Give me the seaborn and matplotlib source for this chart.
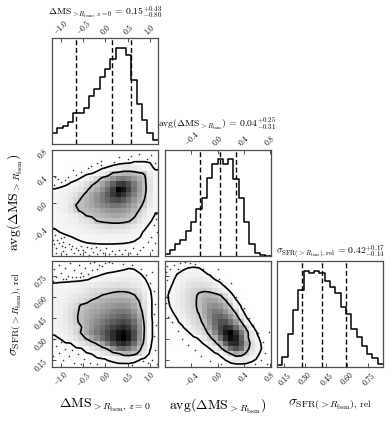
import numpy as np
import matplotlib
matplotlib.use("Agg")
import matplotlib.pyplot as plt
from matplotlib.colors import LinearSegmentedColormap
from matplotlib.ticker import FixedLocator, FuncFormatter, NullLocator
import seaborn as sns

# ---------------- data ----------------
range_ms = [-1.20, 1.18]
range_avg = [-0.81, 0.81]
range_sig = [0.10, 0.857]

labels = [r"$\Delta\mathrm{MS}_{>R_{\rm bsm},\,z=0}$",
          r"$\mathrm{avg}(\Delta\mathrm{MS}_{>R_{\rm bsm}})$",
          r"$\sigma_{\mathrm{SFR}(>R_{\rm bsm}),\,\mathrm{rel}}$"]
titles = [r"$\Delta\mathrm{MS}_{>R_{\rm bsm},\,z=0}\,=\,0.15_{-0.80}^{+0.43}$",
          r"$\mathrm{avg}(\Delta\mathrm{MS}_{>R_{\rm bsm}})\,=\,0.04_{-0.31}^{+0.25}$",
          r"$\sigma_{\mathrm{SFR}(>R_{\rm bsm}),\,\mathrm{rel}}\,=\,0.42_{-0.14}^{+0.17}$"]

hist_ms = [34, 49, 55, 67, 92, 94, 108, 143, 167, 202, 225, 255, 290, 290, 268, 192, 120, 72, 33, 12]
hist_avg = [5, 17, 33, 47, 72, 98, 138, 172, 230, 272, 286, 272, 286, 227, 172, 98, 35, 7, 2, 0]
hist_sig = [5, 30, 98, 170, 230, 288, 280, 288, 280, 258, 238, 220, 178, 158, 115, 90, 62, 40, 28, 8]

quant_ms = [-0.65, 0.15, 0.58]
quant_avg = [-0.27, 0.04, 0.29]
quant_sig = [0.28, 0.42, 0.59]

ticks_ms = [-1.0, -0.5, 0.0, 0.5, 1.0]
ticks_avg = [-0.4, 0.0, 0.4, 0.8]
ticks_sig = [0.15, 0.30, 0.45, 0.60, 0.75]

contour_levels = [3, 22]

# 2D histogram cell values, rows from top (high y) to bottom
dens_ms_avg = [
    [0, 0, 0, 0, 0, 0, 0, 0, 0, 0, 0, 0, 0, 0, 0, 0, 0, 0, 0, 0],
    [0, 0, 0, 0, 0, 0, 0, 0, 0, 0.5, 0.5, 0.5, 0.5, 1, 1, 1, 1, 1, 1, 0.5],
    [0, 0, 0, 0, 0, 0, 0, 0, 0.5, 0.5, 1, 1, 1.5, 2, 2.5, 3.5, 3.5, 3.5, 3, 1],
    [0, 0, 0, 0.5, 0.5, 0.5, 1, 1, 1.5, 2.6, 3.5, 5, 7, 9, 10, 9, 7, 5, 4, 2.5],
    [0, 0, 0.5, 0.5, 1, 1, 2, 2.8, 4, 7, 12, 24, 26, 30, 30, 28, 24, 21, 8, 4],
    [0, 0.5, 1, 1.5, 2, 3.5, 6, 10, 16, 26, 32, 42, 50, 52, 48, 40, 32, 24, 10, 4],
    [0.5, 1, 2, 3.5, 5, 8, 13, 19, 26, 36, 48, 62, 75, 78, 68, 52, 38, 25, 11, 4],
    [3.2, 4, 5, 6, 8, 11, 18, 28, 34, 44, 58, 75, 100, 92, 75, 56, 40, 26, 11, 4],
    [4, 5, 6, 8, 11, 18, 26, 34, 42, 52, 64, 78, 88, 80, 66, 50, 36, 24, 10, 4],
    [4.5, 5.5, 7, 10, 15, 24, 30, 36, 44, 52, 60, 68, 70, 64, 54, 42, 32, 21, 9, 4],
    [4.5, 5.5, 7, 12, 22, 25, 30, 34, 40, 46, 50, 54, 54, 50, 44, 36, 26, 18, 8, 4],
    [4, 5, 7, 10, 19, 25, 27, 29, 32, 36, 40, 42, 42, 40, 36, 30, 21, 13, 6, 3.5],
    [3.5, 4, 5, 7, 9, 13, 22, 24, 27, 30, 32, 34, 34, 32, 29, 24, 16, 10, 5, 2.5],
    [3.5, 4, 5, 6, 7, 9, 12, 15, 22, 24, 25, 26, 26, 25, 23, 18, 12, 7, 3.5, 1.5],
    [3.3, 3.8, 4.5, 5, 6, 7, 8, 10, 12, 14, 15, 16, 16, 15, 13, 10, 7, 4, 2, 1],
    [2.6, 3.1, 3.6, 4, 4.5, 5, 6, 7, 8, 9, 9, 9, 9, 9, 8, 6, 4, 2.5, 1.5, 1],
    [2, 2.2, 2.5, 2.9, 3.3, 3.8, 4.2, 4.6, 5, 5.2, 5.4, 5.4, 5.2, 5, 4.5, 4, 3.2, 2, 1, 0.5],
    [1.5, 1.8, 2, 2.2, 2.5, 2.8, 3.1, 3.3, 3.4, 3.5, 3.5, 3.5, 3.4, 3.3, 3.1, 2.8, 2, 1.2, 0.8, 0.3],
    [1.5, 1.5, 1.5, 1.5, 1.5, 1.5, 2, 2, 2, 2, 2, 2, 2, 2, 2, 1.5, 1, 0.5, 0.5, 0.5],
    [1, 1, 1, 1, 1, 1, 1, 1, 1, 1, 1, 1, 1, 1, 1, 1, 0.5, 0.5, 0.5, 0.5],
]

dens_ms_sig = [
    [1, 1, 1, 1, 1, 1, 1, 1, 1, 1, 1, 1, 1, 1, 1, 1, 0.5, 0.5, 0.5, 0.5],
    [1, 1, 1, 1, 1, 1, 1, 1, 1, 1, 1.5, 1.5, 2, 2.5, 3.2, 2.9, 1.5, 1, 0.5, 0.5],
    [1.5, 1.5, 1.5, 1.5, 1.5, 1.5, 1.5, 2, 2, 2.9, 3.5, 4, 4.5, 5, 5, 4.5, 3.5, 2, 1, 0.5],
    [2, 2, 2, 2, 2, 2, 2.7, 3.5, 4.5, 5.5, 6.5, 7, 7.5, 8, 8, 7, 5, 3.3, 1.5, 0.5],
    [3.5, 3.8, 4, 4.5, 5, 6, 7, 8, 9, 10, 11, 12, 13, 13, 12, 10, 8, 5, 2, 1],
    [4, 4.5, 5, 6, 7, 8, 10, 12, 14, 16, 18, 19, 20, 20, 19, 16, 12, 7, 3.2, 1],
    [4.5, 5, 6, 7, 9, 11, 13, 15, 18, 22.5, 24, 26, 27, 27, 26, 23, 17, 9, 3.5, 1.5],
    [5, 6, 7, 9, 11, 14, 18, 23, 27, 30, 32, 34, 35, 35, 34, 29, 21, 11, 3.8, 1.5],
    [5, 6, 8, 11, 15, 25, 27, 30, 33, 36, 39, 41, 43, 43, 41, 35, 24, 12, 3.8, 1.5],
    [5.5, 6.5, 9, 13, 19, 25, 30, 34, 37, 41, 45, 49, 52, 52, 50, 42, 30, 14, 3.8, 1.5],
    [5.5, 6.5, 9, 13, 20, 26, 32, 37, 41, 46, 51, 56, 60, 62, 58, 49, 34, 16, 3.8, 1.5],
    [5.5, 6.5, 9, 13, 19, 26, 33, 40, 46, 52, 58, 64, 69, 72, 68, 57, 40, 18, 3.8, 2],
    [5, 6, 8, 11, 15, 21, 32, 42, 50, 58, 66, 74, 80, 84, 78, 64, 44, 20, 3.8, 2],
    [3.5, 5, 7, 10, 16, 23, 34, 44, 53, 62, 72, 82, 92, 96, 88, 70, 46, 19, 3.8, 2],
    [2.5, 3.2, 5, 8, 12, 17, 24, 34, 46, 58, 70, 82, 94, 100, 90, 70, 44, 18, 3.8, 2],
    [1.5, 2, 2.8, 3.0, 5, 10, 14, 18, 24, 36, 52, 68, 80, 84, 76, 58, 38, 16, 3.6, 1.5],
    [1, 1.5, 2, 2.3, 2.6, 2.8, 5, 10, 14, 18, 24, 42, 56, 60, 54, 42, 26, 12, 3.3, 1],
    [0.5, 1, 1.5, 2, 2.2, 2.5, 2.5, 3.1, 6, 9, 12, 16, 20, 28, 30, 26, 18, 8, 2, 1],
    [1, 1, 1, 1.5, 1.5, 1.5, 1.5, 1.5, 2, 2.5, 3.5, 5, 7, 8, 8, 6, 3.5, 2, 1, 0.5],
    [0.5, 0.5, 0.5, 0.5, 0.5, 0.5, 1, 1, 1, 1, 1.5, 1.5, 2, 2, 2, 1.5, 1, 0.5, 0.5, 0.5],
]

dens_avg_sig = [
    [0, 0, 1, 1, 1, 1, 1, 0.5, 0, 0, 0, 0, 0, 0, 0, 0, 0, 0, 0, 0],
    [0.5, 1, 1.5, 2.5, 3.5, 4, 3.5, 2, 1, 0, 0, 0, 0, 0, 0, 0, 0, 0, 0, 0],
    [1, 2, 3.2, 4.5, 5.5, 6, 6, 4, 2.5, 1.5, 0.5, 0, 0, 0, 0, 0, 0, 0, 0, 0],
    [1.5, 2.5, 4, 6, 8, 9, 9, 8, 6, 3, 2, 0.5, 0, 0, 0, 0, 0, 0, 0, 0],
    [2, 3.1, 5, 8, 11, 13, 14, 13, 11, 8, 4, 2, 0.5, 0, 0, 0, 0, 0, 0, 0],
    [2.5, 3.5, 6, 9, 13, 17, 20, 20, 18, 14, 9, 4.5, 2, 0.5, 0, 0, 0, 0, 0, 0],
    [2.8, 4, 7, 10, 14, 19, 24, 28, 29, 27, 23, 14, 4.5, 1.5, 0.5, 0, 0, 0, 0, 0],
    [2.6, 4, 7, 10, 14, 19, 25, 32, 36, 35, 30, 23, 12, 3.4, 1.5, 0.5, 0, 0, 0, 0],
    [2.5, 3.5, 7, 10, 14, 19, 25, 34, 42, 44, 40, 31, 21, 8, 2.5, 1, 0, 0, 0, 0],
    [2, 3, 6, 9, 13, 17, 24, 35, 46, 52, 50, 42, 30, 18, 4, 1.5, 0, 0, 0, 0],
    [1.5, 2.5, 3.3, 7, 11, 15, 20, 32, 46, 58, 60, 54, 42, 28, 10, 2.5, 1, 0, 0, 0],
    [1, 2, 2.8, 4, 9, 13, 17, 27, 42, 58, 68, 68, 56, 40, 22, 6, 1.5, 0, 0, 0],
    [0.5, 1, 2, 2.8, 6, 10, 14, 21, 36, 54, 72, 82, 78, 58, 36, 17, 4, 1, 0, 0],
    [0.5, 1, 1.5, 2, 2.5, 6, 11, 16, 27, 46, 70, 90, 100, 80, 52, 27, 10, 2.5, 0.5, 0],
    [0.5, 0.5, 1, 1, 1.5, 2.2, 3.5, 10, 18, 32, 56, 82, 96, 88, 62, 28, 10, 4, 1, 0],
    [0, 0.5, 0.5, 0.5, 1, 1, 2, 3.5, 9, 17, 34, 62, 82, 84, 66, 36, 14, 5, 2, 0.5],
    [0, 0, 0, 0.5, 0.5, 0.5, 1, 1.5, 3, 8, 16, 36, 58, 68, 58, 30, 12, 5, 2.5, 0.5],
    [0, 0, 0, 0, 0, 0.5, 0.5, 1, 1.5, 2, 4, 10, 22, 34, 30, 18, 9, 4, 1.5, 0.5],
    [0, 0, 0, 0, 0, 0, 0, 0.5, 1, 1, 1.5, 3.5, 6, 9, 10, 8, 5, 2.5, 1, 0],
    [0, 0, 0, 0, 0, 0, 0, 0, 0, 0.5, 0.5, 1, 2, 2.5, 2.5, 2, 1, 0.5, 0, 0],
]

# individual samples outside the outer contour
dots_ms_avg_x = [-0.10, 0.50, 0.94, -0.73, -0.55, -0.40, -0.84, -1.07, -1.14, 1.12, 1.02, 0.57, -0.32, 0.20,
                 -0.10, -1.15, -1.00, -0.90, -0.65, 0.30, 0.75, -0.20,
                 1.13, 1.14, 1.08, 1.15, 1.02, 0.95, 1.12, 0.85, 1.05,
                 -1.15, -1.10, -1.05, -1.12, -0.98, -0.95, -0.90, -0.88, -0.82, -0.78, -0.74, -0.70, -0.66,
                 -0.62, -0.58, -0.55, -0.50, -0.45, -0.42, -0.38, -0.33, -0.28, -0.22, -0.18, -0.12, -0.05,
                 0.02, 0.08, 0.15, 0.22, 0.30, 0.38, 0.45, 0.55, 0.62, 0.70, 0.78, -1.17, -1.08, -0.96,
                 -1.14, -1.00, -0.92]
dots_ms_avg_y = [0.64, 0.67, 0.67, 0.49, 0.47, 0.52, 0.39, 0.36, 0.39, 0.60, 0.72, 0.71, 0.56, 0.62,
                 0.57, 0.27, 0.31, 0.34, 0.42, 0.70, 0.74, 0.60,
                 -0.18, -0.25, -0.35, -0.45, -0.52, -0.60, -0.62, -0.68, -0.72,
                 -0.64, -0.70, -0.62, -0.77, -0.66, -0.74, -0.68, -0.79, -0.63, -0.71, -0.66, -0.77, -0.69,
                 -0.73, -0.78, -0.67, -0.72, -0.76, -0.68, -0.80, -0.70, -0.75, -0.68, -0.78, -0.72, -0.77,
                 -0.70, -0.79, -0.74, -0.78, -0.72, -0.79, -0.73, -0.77, -0.70, -0.78, -0.72, -0.57, -0.58, -0.60,
                 -0.49, -0.55, -0.53]

dots_ms_sig_x = [-1.15, -1.10, -1.05, -1.00, -0.95, -0.90, -0.85, -0.80, -0.76, -0.70, -0.65, -0.60, -0.55,
                 -0.50, -0.45, -0.40, -0.35, -0.30, -0.25, -0.20, -0.15, -0.08, 0.00, 0.08, 0.15, -1.18,
                 -0.88, -0.58, 0.40, 0.60, 0.80, 0.90, 1.00, 1.05, 1.10, 1.12, 1.10, 1.14, 1.10, 1.12,
                 1.04, 0.95, 1.15,
                 -1.15, -1.10, -1.05, -1.00, -0.95, -0.90, -0.82, -0.75, -0.70, -0.62, -0.55, -0.48, -0.35,
                 -0.20, -1.18, 0.85, 0.60]
dots_ms_sig_y = [0.80, 0.74, 0.83, 0.77, 0.73, 0.81, 0.75, 0.84, 0.74, 0.79, 0.745, 0.83, 0.77,
                 0.75, 0.81, 0.765, 0.84, 0.79, 0.85, 0.80, 0.83, 0.82, 0.845, 0.85, 0.84, 0.715,
                 0.725, 0.745, 0.835, 0.83, 0.80, 0.76, 0.70, 0.78, 0.64, 0.55, 0.48, 0.40, 0.32, 0.22,
                 0.15, 0.13, 0.12,
                 0.30, 0.25, 0.20, 0.28, 0.15, 0.23, 0.18, 0.22, 0.13, 0.19, 0.12, 0.16, 0.13,
                 0.12, 0.18, 0.14, 0.115]

dots_avg_sig_x = [-0.79, -0.77, -0.80, -0.76, -0.78, -0.79, -0.80, -0.77, -0.72, -0.66, -0.58, -0.50, -0.42,
                  -0.35, -0.60, -0.22, -0.12, 0.02, 0.10, 0.28, 0.40, 0.48, 0.55, 0.62, -0.28, 0.00,
                  0.20, 0.70, 0.72, 0.66, 0.75, 0.58, 0.78, -0.55, -0.45, -0.35, -0.25, -0.60, -0.70,
                  -0.76, -0.12, 0.05]
dots_avg_sig_y = [0.78, 0.72, 0.68, 0.64, 0.60, 0.56, 0.52, 0.82, 0.80, 0.83, 0.845, 0.85, 0.84,
                  0.835, 0.80, 0.80, 0.76, 0.73, 0.68, 0.60, 0.52, 0.45, 0.40, 0.34, 0.86, 0.80,
                  0.70, 0.28, 0.20, 0.15, 0.12, 0.12, 0.35, 0.30, 0.26, 0.22, 0.18, 0.36, 0.42,
                  0.46, 0.14, 0.12]

# ---------------- style ----------------
plt.rcParams.update({
    "font.family": "serif",
    "font.serif": ["DejaVu Serif"],
    "mathtext.fontset": "cm",
    "axes.edgecolor": "0.3",
    "axes.linewidth": 0.9,
    "xtick.direction": "in",
    "ytick.direction": "in",
    "xtick.major.size": 3,
    "ytick.major.size": 3,
    "xtick.major.width": 0.7,
    "ytick.major.width": 0.7,
    "xtick.color": "0.3",
    "ytick.color": "0.3",
    "xtick.labelcolor": "black",
    "ytick.labelcolor": "black",
})

W, H = 389, 421
fig = plt.figure(figsize=(W / 100, H / 100), dpi=100)
fig.patch.set_facecolor("white")
lefts = [52, 164.5, 277]
tops = [38, 149.5, 261]
SZ = 106


def make_ax(row, col):
    return fig.add_axes([lefts[col] / W, 1 - (tops[row] + SZ) / H, SZ / W, SZ / H])


dens_cmap = LinearSegmentedColormap.from_list("dens", ["white", "black"])
TICK_FS = 5.5
LABEL_FS = 10
TITLE_FS = 7


def fmt1(v, p):
    return f"${v:.1f}$"


def fmt2(v, p):
    return f"${v:.2f}$"


ranges = [range_ms, range_avg, range_sig]
ticks = [ticks_ms, ticks_avg, ticks_sig]
fmts = [fmt1, fmt1, fmt2]
hists = [hist_ms, hist_avg, hist_sig]
quants = [quant_ms, quant_avg, quant_sig]


def set_xaxis(ax, i, show_labels, top=False):
    ax.set_xlim(ranges[i])
    ax.xaxis.set_major_locator(FixedLocator(ticks[i]))
    ax.xaxis.set_major_formatter(FuncFormatter(fmts[i]))
    if top:
        ax.xaxis.set_ticks_position("top")
        ax.tick_params(axis="x", labeltop=True, labelbottom=False, labelsize=TICK_FS, pad=1.0)
    else:
        ax.tick_params(axis="x", labelbottom=show_labels, labelsize=TICK_FS, pad=1.5)
    for lab in ax.get_xticklabels():
        lab.set_rotation(45)


def set_yaxis(ax, i, show_labels):
    ax.set_ylim(ranges[i])
    ax.yaxis.set_major_locator(FixedLocator(ticks[i]))
    ax.yaxis.set_major_formatter(FuncFormatter(fmts[i]))
    ax.tick_params(axis="y", labelleft=show_labels, labelsize=TICK_FS, pad=1.5)
    for lab in ax.get_yticklabels():
        lab.set_rotation(45)


# ---------------- diagonal histograms ----------------
for i in range(3):
    ax = make_ax(i, i)
    lo, hi = ranges[i]
    edges = np.linspace(lo, hi, len(hists[i]) + 1)
    centers = 0.5 * (edges[:-1] + edges[1:])
    sns.histplot(x=list(centers), weights=list(hists[i]), bins=list(edges), element="step",
                 fill=False, color="black", linewidth=1.1, ax=ax)
    for q in quants[i]:
        ax.axvline(q, color="black", ls=(0, (3.5, 2)), lw=1.0)
    ax.set_ylim(0, 1.1 * max(hists[i]))
    ax.yaxis.set_major_locator(NullLocator())
    ax.set_ylabel("")
    ax.set_xlabel("")
    if i < 2:
        set_xaxis(ax, i, True, top=True)
        ax.set_title(titles[i], fontsize=TITLE_FS, y=1.215, pad=0)
    else:
        set_xaxis(ax, i, True)
        ax.set_title(titles[i], fontsize=TITLE_FS, pad=2)
        ax.set_xlabel(labels[i], fontsize=LABEL_FS)
        ax.xaxis.set_label_coords(0.5, -0.28)


# ---------------- 2D panels ----------------
def draw_2d(ax, grid, ix, iy, dx, dy):
    G = np.array(grid, dtype=float)[::-1]
    ny, nx = G.shape
    xe = np.linspace(ranges[ix][0], ranges[ix][1], nx + 1)
    ye = np.linspace(ranges[iy][0], ranges[iy][1], ny + 1)
    xc = 0.5 * (xe[:-1] + xe[1:])
    yc = 0.5 * (ye[:-1] + ye[1:])
    X, Y = np.meshgrid(xc, yc)
    sns.histplot(x=list(X.ravel()), y=list(Y.ravel()), weights=list(G.ravel()),
                 bins=[list(xe), list(ye)],
                 cmap=dens_cmap, thresh=None, vmin=0, vmax=G.max(), ax=ax)
    xp = np.concatenate([[ranges[ix][0]], xc, [ranges[ix][1]]])
    yp = np.concatenate([[ranges[iy][0]], yc, [ranges[iy][1]]])
    Gp = np.pad(G, 1, mode="edge")
    ax.contour(xp, yp, Gp, levels=contour_levels, colors="black", linewidths=1.2)
    sns.scatterplot(x=dx, y=dy, s=1.3, color="0.2", linewidth=0, ax=ax)
    ax.set_xlabel("")
    ax.set_ylabel("")


axA = make_ax(1, 0)
draw_2d(axA, dens_ms_avg, 0, 1, dots_ms_avg_x, dots_ms_avg_y)
set_xaxis(axA, 0, False)
set_yaxis(axA, 1, True)
axA.set_ylabel(labels[1], fontsize=LABEL_FS)
axA.yaxis.set_label_coords(-0.255, 0.5)

axB = make_ax(2, 0)
draw_2d(axB, dens_ms_sig, 0, 2, dots_ms_sig_x, dots_ms_sig_y)
set_xaxis(axB, 0, True)
set_yaxis(axB, 2, True)
axB.set_xlabel(labels[0], fontsize=LABEL_FS)
axB.xaxis.set_label_coords(0.5, -0.28)
axB.set_ylabel(labels[2], fontsize=LABEL_FS)
axB.yaxis.set_label_coords(-0.275, 0.5)

axC = make_ax(2, 1)
draw_2d(axC, dens_avg_sig, 1, 2, dots_avg_sig_x, dots_avg_sig_y)
set_xaxis(axC, 1, True)
set_yaxis(axC, 2, False)
axC.set_xlabel(labels[1], fontsize=LABEL_FS)
axC.xaxis.set_label_coords(0.5, -0.28)

fig.savefig("out.png", dpi=100, facecolor="white")
